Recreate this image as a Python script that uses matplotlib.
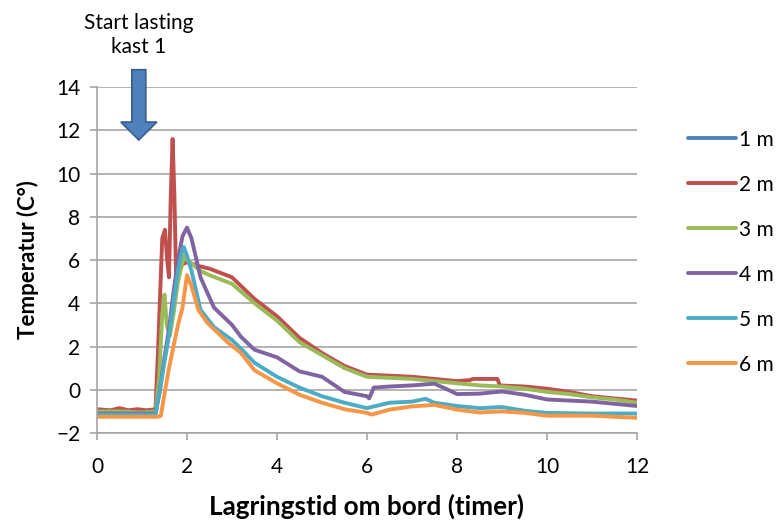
import matplotlib
matplotlib.use("Agg")
import matplotlib.pyplot as plt
from matplotlib.patches import FancyArrow

plt.rcParams['font.family'] = ['Lato', 'DejaVu Sans']

# ---- data ----
labels = ['1 m', '2 m', '3 m', '4 m', '5 m', '6 m']
colors = ['#4F81BD', '#C0504D', '#9BBB59', '#8064A2', '#4BACC6', '#F79646']

# 1 m is hidden behind the other curves in the reference
x_1m = []
y_1m = []

x_2m = [0, 0.3, 0.5, 0.7, 0.9, 1.1, 1.3, 1.36, 1.45, 1.51, 1.56, 1.6, 1.64, 1.68,
        1.72, 1.76, 1.82, 1.9, 2.0, 2.3, 2.5, 3.0, 3.5, 4.0, 4.5, 5.0, 5.5, 6.0,
        6.5, 7.0, 7.5, 8.0, 8.3, 8.35, 8.9, 8.95, 9.5, 10.0, 10.5, 11.0, 11.5, 12.0]
y_2m = [-0.9, -0.95, -0.85, -0.95, -0.9, -0.95, -0.9, 2.0, 7.0, 7.4, 6.0, 5.2, 9.0, 11.6,
        9.0, 5.0, 5.6, 5.8, 5.9, 5.7, 5.6, 5.2, 4.2, 3.4, 2.4, 1.7, 1.1, 0.7,
        0.65, 0.6, 0.5, 0.4, 0.45, 0.5, 0.5, 0.2, 0.15, 0.05, -0.1, -0.3, -0.4, -0.5]

x_3m = [0, 0.5, 1.0, 1.3, 1.38, 1.45, 1.5, 1.55, 1.62, 1.7, 1.8, 1.9, 1.95, 2.0,
        2.3, 2.5, 3.0, 3.5, 4.0, 4.5, 5.0, 5.5, 6.0, 6.5, 7.0, 7.5, 8.0, 8.5,
        9.0, 9.5, 10.0, 10.5, 11.0, 11.5, 12.0]
y_3m = [-1.0, -1.0, -1.05, -1.0, 0.5, 3.5, 4.4, 3.0, 2.5, 3.5, 5.0, 5.9, 6.2, 6.0,
        5.5, 5.3, 4.9, 4.0, 3.2, 2.2, 1.6, 1.0, 0.6, 0.55, 0.5, 0.4, 0.3, 0.2,
        0.15, 0.05, -0.1, -0.2, -0.35, -0.45, -0.6]

x_4m = [0, 0.5, 1.0, 1.3, 1.4, 1.5, 1.6, 1.7, 1.8, 1.9, 2.0, 2.1, 2.3, 2.6, 3.0,
        3.2, 3.5, 4.0, 4.5, 5.0, 5.5, 6.0, 6.05, 6.15, 6.5, 7.0, 7.5, 7.8, 8.0,
        8.5, 9.0, 9.5, 10.0, 11.0, 12.0]
y_4m = [-1.1, -1.1, -1.1, -1.1, 0.0, 1.5, 2.8, 4.5, 6.0, 7.1, 7.5, 7.0, 5.2, 3.8, 3.0,
        2.45, 1.85, 1.5, 0.85, 0.6, -0.1, -0.3, -0.4, 0.1, 0.15, 0.2, 0.28, 0.0, -0.2,
        -0.18, -0.08, -0.23, -0.45, -0.55, -0.75]

x_5m = [0, 0.5, 1.0, 1.3, 1.4, 1.5, 1.6, 1.7, 1.8, 1.9, 1.93, 2.0, 2.1, 2.3, 2.6,
        3.0, 3.2, 3.5, 4.0, 4.5, 5.0, 5.5, 6.0, 6.5, 7.0, 7.3, 7.5, 8.0, 8.5,
        9.0, 9.5, 10.0, 11.0, 12.0]
y_5m = [-1.15, -1.15, -1.15, -1.15, 0.0, 1.3, 2.5, 4.0, 5.5, 6.5, 6.6, 6.2, 5.5, 3.7, 2.9,
        2.3, 1.9, 1.25, 0.6, 0.1, -0.3, -0.6, -0.85, -0.6, -0.55, -0.42, -0.6, -0.75, -0.85,
        -0.8, -0.97, -1.07, -1.1, -1.1]

x_6m = [0, 0.5, 1.0, 1.35, 1.42, 1.5, 1.6, 1.7, 1.8, 1.9, 2.0, 2.1, 2.25, 2.45, 2.9,
        3.2, 3.5, 4.0, 4.5, 5.0, 5.5, 6.0, 6.1, 6.5, 7.0, 7.5, 8.0, 8.5, 9.0,
        9.5, 10.0, 11.0, 12.0]
y_6m = [-1.25, -1.25, -1.25, -1.25, -1.2, -0.2, 1.0, 2.0, 3.0, 3.8, 5.3, 4.8, 3.7, 3.1, 2.2,
        1.7, 0.9, 0.3, -0.23, -0.6, -0.9, -1.07, -1.15, -0.92, -0.77, -0.7, -0.92, -1.05, -1.0,
        -1.07, -1.2, -1.2, -1.3]

series = [(x_1m, y_1m), (x_2m, y_2m), (x_3m, y_3m),
          (x_4m, y_4m), (x_5m, y_5m), (x_6m, y_6m)]

fig = plt.figure(figsize=(7.79, 5.22), dpi=100)
ax = fig.add_axes([0.1245, 0.1705, 0.6932, 0.6628])

for (xs, ys), lab, col in zip(series, labels, colors):
    ax.plot(xs, ys, color=col, lw=2.8, label=lab, solid_capstyle='round')

ax.set_xlim(0, 12)
ax.set_ylim(-2, 14)
ax.set_xticks(range(0, 13, 2))
ax.set_yticks(range(-2, 15, 2))
ax.yaxis.grid(True, color='#A6A6A6', lw=1.2)
ax.set_axisbelow(True)
for s in ['top', 'right']:
    ax.spines[s].set_visible(False)
for s in ['left', 'bottom']:
    ax.spines[s].set_color('#A6A6A6')
    ax.spines[s].set_linewidth(1.2)
ax.tick_params(axis='x', direction='out', length=5, color='#A6A6A6', width=1.2,
               labelsize=15, pad=12)
ax.tick_params(axis='y', direction='out', length=5, color='#A6A6A6', width=1.2,
               labelsize=15, pad=7)

ax.set_xlabel('Lagringstid om bord (timer)', fontsize=18.8, fontweight='bold', labelpad=12)
ax.set_ylabel('Temperatur (C°)', fontsize=16, fontweight='bold', labelpad=12)

# arrow marking start of loading
arrow = FancyArrow(0.93, 14.8, 0, -3.25, width=0.31, head_width=0.8, head_length=0.83,
                   length_includes_head=True, facecolor='#4F81BD', edgecolor='#385D8A',
                   lw=1.2, clip_on=False, zorder=5)
ax.add_patch(arrow)
ax.text(0.93, 16.4, 'Start lasting\nkast 1', ha='center', va='center', fontsize=15,
        linespacing=1.25, clip_on=False)

ax.legend(loc='center left', bbox_to_anchor=(1.06, 0.523), frameon=False, fontsize=15,
          handlelength=2.3, handletextpad=0.15, labelspacing=1.2)

fig.savefig('out.png', dpi=100)
